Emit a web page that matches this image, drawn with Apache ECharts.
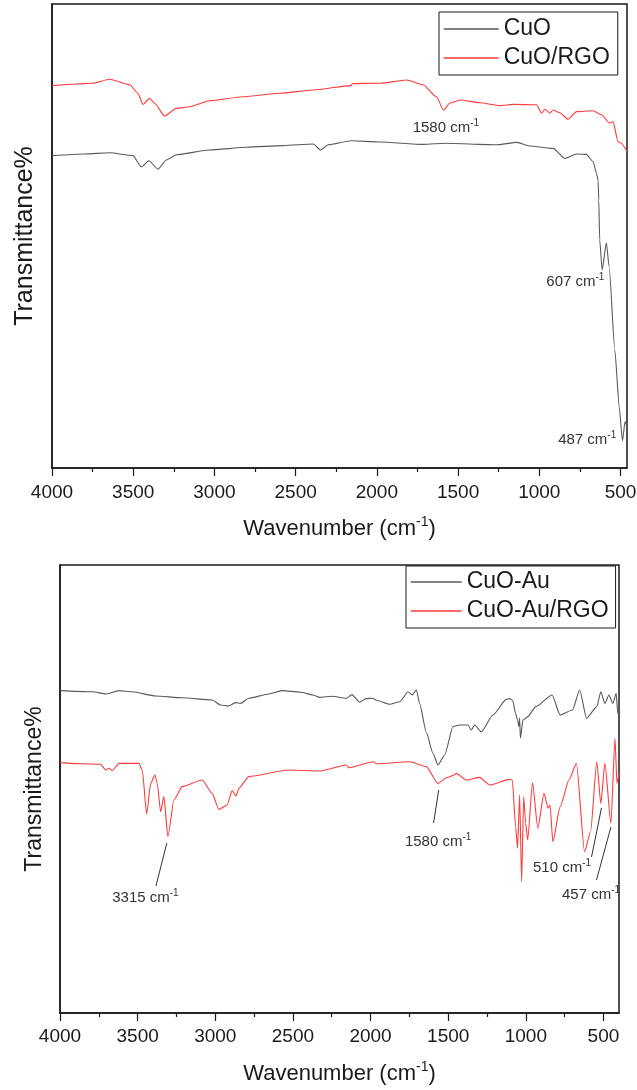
<!DOCTYPE html>
<html><head><meta charset="utf-8">
<script src="https://cdn.jsdelivr.net/npm/echarts@6/dist/echarts.min.js"></script>
<style>html,body{margin:0;padding:0;background:#fff}#c{width:637px;height:1090px}</style>
</head><body><div id="c"></div>
<script>
// ---- data: [wavenumber (cm-1), transmittance (arb. units)] ----
const cuo = [[4000,78.1],[3800,78.5],[3645,78.8],[3502,78.1],[3450,75.3],[3403,76.8],[3348,74.7],[3296,77],[3235,78.3],[3030,79.5],[2800,80.2],[2578,80.6],[2392,81],[2346,79.5],[2300,80.8],[2156,81.8],[1981,81.5],[1715,80.9],[1571,81.2],[1366,80.9],[1264,80.8],[1138,81.4],[1058,80.5],[915,79.9],[843,77.4],[771,78.5],[710,78.4],[669,76.6],[648,73.7],[638,72],[634,67],[628,57],[613,49.5],[587,56.3],[570,50.3],[535,29.5],[508,15.3],[488,6.8],[472,11.6],[460,10.3]];
const cuoRgo = [[4000,95.6],[3850,96],[3748,96.2],[3645,97.2],[3522,95.8],[3471,93.7],[3440,90.9],[3399,92.4],[3368,91.2],[3307,88],[3235,89.9],[3153,90.3],[3030,91.8],[2825,92.8],[2597,93.7],[2392,94.5],[2160,95.6],[2150,96.1],[1981,96.2],[1817,97],[1715,95.8],[1633,92.8],[1590,89.5],[1551,91.2],[1489,92],[1366,91.3],[1243,90.6],[1161,90.9],[1017,90.8],[986,88.7],[966,89.7],[935,88.7],[915,89.5],[874,88.8],[823,87.2],[771,89.1],[669,89.3],[617,88.3],[566,86.2],[546,86.6],[515,81.6],[495,81.2],[460,79.1]];
const cuoAu = [[4000,80.6],[3900,80.4],[3792,80.3],[3702,79.75],[3620,80.6],[3535,80.3],[3384,79.25],[3213,78.8],[3020,78.25],[2966,77],[2913,76.75],[2870,77.6],[2837,77.4],[2784,78.7],[2655,79.75],[2570,80.6],[2450,80.2],[2370,79.5],[2327,78.9],[2250,79.2],[2155,78.7],[2120,79.6],[2070,77.7],[2030,78.6],[1984,78.7],[1963,78.2],[1877,77.2],[1812,77.8],[1759,80.3],[1731,79.5],[1705,80.8],[1684,77.4],[1641,70.2],[1598,64.9],[1566,62],[1523,64.5],[1469,71.6],[1426,72],[1373,72],[1351,70.75],[1330,72],[1287,70.3],[1212,74.5],[1126,78.4],[1105,78.6],[1085,78.2],[1066,74.9],[1052,73],[1045,71.6],[1040,73.8],[1035,68.7],[1019,73.25],[988,74.1],[936,76.6],[831,79.5],[779,74.5],[700,75.75],[653,80.75],[609,73.7],[543,76.6],[517,80.3],[491,77.4],[465,79.5],[439,77.4],[418,79.9],[408,74.9],[400,76]];
const cuoAuRgo = [[4000,62.6],[3856,62.3],[3738,62.2],[3706,60.75],[3685,61.2],[3664,60.6],[3620,62.4],[3492,62.4],[3470,60.75],[3442,49.75],[3416,57.4],[3389,59.5],[3374,57.5],[3352,50.3],[3331,54.1],[3305,44.1],[3266,53.25],[3213,56.6],[3084,58.25],[3020,54.9],[2977,50.9],[2924,52],[2891,55.6],[2866,54.25],[2848,56.2],[2784,59.1],[2527,60.75],[2327,60.5],[2155,62],[2140,61.3],[1984,62.8],[1960,62.3],[1748,62.8],[1641,61.6],[1566,57.4],[1512,58.8],[1460,59.5],[1448,59.9],[1383,58.25],[1298,58.9],[1233,57],[1105,58.4],[1087,58.25],[1066,46.6],[1053,41.2],[1040,54.5],[1027,32.8],[1014,54.1],[1001,47.4],[988,43.25],[957,57.6],[923,46.2],[883,54.9],[857,51.2],[844,52],[826,42.8],[779,51.6],[720,58.5],[674,62.4],[622,40.3],[583,45.3],[543,62.8],[517,52.4],[491,62.4],[452,47.4],[426,68.7],[413,57.4],[400,60]];
const majorTicks = [4000,3500,3000,2500,2000,1500,1000,500];
const minorTicks = [3750,3250,2750,2250,1750,1250,750];
const seriesNames = ['CuO','CuO/RGO','CuO-Au','CuO-Au/RGO'];
const peakLabels = ['1580','607','487','3315','1580','510','457'];

// ---- annotation anchors (data coords) ----
const topNotes = [{name:peakLabels[0],coord:[1575,85]}];
const topNotesGrey = [{name:peakLabels[1],coord:[778,46.5]},{name:peakLabels[2],coord:[705,7]}];
const botNotes = [{name:peakLabels[3],coord:[3450,28.75]},{name:peakLabels[4],coord:[1565,42.75]},{name:peakLabels[5],coord:[767,36.25]},{name:peakLabels[6],coord:[580,29.5]}];
const botLeaders = [[[3312,42.5],[3382,31.75]],[[1561,55.75],[1594,47.5]],[[513,51.25],[577,39]],[[452,46.5],[545,33.25]]];

const FONT = '"Liberation Sans", Arial, sans-serif';
const INK = '#1a1a1a', GREY = '#5a5a5a', RED = '#ff3b3b', NOTE = '#333';

const noteLabel = {
  show: true, position: 'inside', formatter: p => '{a|' + p.name + ' cm}{b|-1}',
  rich: {
    a: {fontSize: 15, fontFamily: FONT, color: NOTE, lineHeight: 20},
    b: {fontSize: 10, fontFamily: FONT, color: NOTE, lineHeight: 11, verticalAlign: 'top'}
  }
};
function markPts(list){
  return {symbol:'circle', symbolSize:0, silent:true, label:noteLabel, itemStyle:{color:'transparent'}, data:list.map(n=>({name:n.name, coord:n.coord}))};
}

function xMain(g, min, gap, margin){
  return {gridIndex:g, type:'value', inverse:true, min:min, max:4000, position:'bottom',
    axisLine:{show:true, onZero:false, lineStyle:{color:INK, width:1.5}},
    axisTick:{show:true, inside:false, length:8, customValues:majorTicks, lineStyle:{color:INK, width:1.2}},
    axisLabel:{show:true, customValues:majorTicks, formatter:v=>String(v), margin:margin, fontSize:19, color:INK, fontFamily:FONT},
    splitLine:{show:false},
    name:'{a|Wavenumber (cm}{b|-1}{a|)}', nameLocation:'middle', nameGap:gap,
    nameTextStyle:{rich:{a:{fontSize:22, fontFamily:FONT, color:INK, lineHeight:28}, b:{fontSize:14, fontFamily:FONT, color:INK, lineHeight:14, verticalAlign:'top'}}}
  };
}
function xMinor(g, min){
  return {gridIndex:g, type:'value', inverse:true, min:min, max:4000, position:'bottom',
    axisLine:{show:false, onZero:false}, axisLabel:{show:false}, splitLine:{show:false},
    axisTick:{show:true, inside:false, length:4, customValues:minorTicks, lineStyle:{color:INK, width:1.2}}};
}
function yAx(g, max, fs, gap){
  return {gridIndex:g, type:'value', min:0, max:max,
    axisLabel:{show:false}, axisTick:{show:false}, splitLine:{show:false},
    axisLine:{show:true, lineStyle:{color:INK, width:1.5}},
    name:'Transmittance%', nameLocation:'middle', nameRotate:90, nameGap:gap,
    nameTextStyle:{fontSize:fs, fontFamily:FONT, color:INK}};
}
function line(name, data, color, xi, yi, extra){
  return Object.assign({type:'line', name:name, data:data, xAxisIndex:xi, yAxisIndex:yi, symbol:'none', showSymbol:false,
    smooth:0.2, smoothMonotone:'x', lineStyle:{color:color, width:1.1}, itemStyle:{color:color}, z:3}, extra||{});
}
function legendBox(names, left, top, iw, pad){
  return {data:names, orient:'vertical', left:left, top:top, itemWidth:iw, itemHeight:14, itemGap:5,
    padding:pad, borderColor:INK, borderWidth:1, backgroundColor:'#fff', selectedMode:false,
    itemStyle:{opacity:0}, lineStyle:{width:1.4},
    textStyle:{fontSize:23, lineHeight:24, fontFamily:FONT, color:INK}};
}

const chart = echarts.init(document.getElementById('c'), null, {renderer:'canvas'});
chart.setOption({
  animation:false, backgroundColor:'#fff',
  grid:[
    {left:52, top:4, width:575, height:464, show:true, borderColor:INK, borderWidth:1.5, backgroundColor:'transparent', containLabel:false, outerBoundsMode:'none'},
    {left:60, top:565, width:559, height:448, show:true, borderColor:INK, borderWidth:1.5, backgroundColor:'transparent', containLabel:false, outerBoundsMode:'none'}
  ],
  legend:[
    legendBox([seriesNames[0], seriesNames[1]], 439, 12, 55, [5,8,5,4]),
    legendBox([seriesNames[2], seriesNames[3]], 406, 566, 51, [4,7,5,4])
  ],
  xAxis:[xMain(0,460,47,15), xMinor(0,460), xMain(1,400,47,14), xMinor(1,400)],
  yAxis:[yAx(0,116,25,14), yAx(1,112,23,14)],
  series:[
    line(seriesNames[0], cuo, GREY, 0, 0, {markPoint:markPts(topNotesGrey)}),
    line(seriesNames[1], cuoRgo, RED, 0, 0, {markPoint:markPts(topNotes)}),
    line(seriesNames[2], cuoAu, GREY, 2, 1),
    line(seriesNames[3], cuoAuRgo, RED, 2, 1, {
      markPoint:markPts(botNotes),
      markLine:{silent:true, symbol:'none', label:{show:false}, lineStyle:{color:NOTE, width:1, type:'solid'},
        data:botLeaders.map(s=>[{coord:s[0]},{coord:s[1]}])}
    })
  ]
});
</script></body></html>
